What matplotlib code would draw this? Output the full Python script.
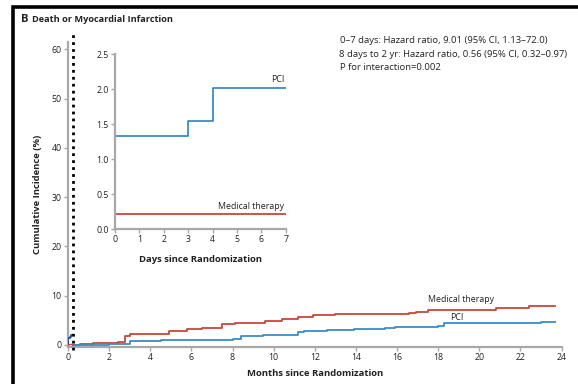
import matplotlib
matplotlib.use("Agg")
import matplotlib.pyplot as plt
from matplotlib.lines import Line2D
import numpy as np

plt.rcParams['font.family'] = ['Open Sans', 'DejaVu Sans']

# Main panel: landmark analysis from day 8 to 2 years (months, cumulative %)
med_months = [0.25, 0.6, 1.2, 2.45, 2.75, 3.0, 4.9, 5.8, 6.5, 7.5, 8.1, 9.6, 10.4, 11.2, 11.9, 13.0,
              16.6, 16.9, 17.5, 20.8, 22.4, 23.7]
med_pct = [0.0, 0.2, 0.5, 0.6, 1.9, 2.3, 2.8, 3.2, 3.5, 4.2, 4.4, 4.8, 5.2, 5.7, 6.0, 6.2,
           6.4, 6.7, 7.1, 7.5, 8.0, 8.0]
pci_months = [0.25, 2.0, 3.0, 4.5, 8.0, 8.4, 9.5, 11.2, 11.5, 12.6, 13.9, 15.4, 15.9, 18.0,
              18.3, 19.1, 23.0, 23.7]
pci_pct = [0.0, 0.2, 0.85, 1.1, 1.3, 1.8, 2.1, 2.6, 2.8, 3.1, 3.3, 3.5, 3.7, 3.9,
           4.4, 4.4, 4.6, 4.6]

# Inset: first 7 days (days, cumulative %)
pci_days = [0, 0, 3, 4, 7]
pci_days_pct = [0.0, 1.33, 1.55, 2.02, 2.02]
med_days = [0, 0, 7]
med_days_pct = [0.0, 0.22, 0.22]

landmark_month = 7 / 30.44

months_ticks = list(range(0, 25, 2))
pct_ticks = list(range(0, 61, 10))
day_ticks = list(range(0, 8))
inset_pct_ticks = [0.0, 0.5, 1.0, 1.5, 2.0, 2.5]

annotation = ["0\u20137 days: Hazard ratio, 9.01 (95% CI, 1.13\u201372.0)",
              "8 days to 2 yr: Hazard ratio, 0.56 (95% CI, 0.32\u20130.97)",
              "P for interaction=0.002"]

RED = "#c8463a"
BLUE = "#3a8bc9"
NAVY = "#1f4e9a"
SPINE = "#a8a8a8"
TXT = "#222222"

fig = plt.figure(figsize=(5.78, 3.84), dpi=100)

def style_axes(ax, fs=6.3):
    for s in ["top", "right"]:
        ax.spines[s].set_visible(False)
    for s in ["left", "bottom"]:
        ax.spines[s].set_color(SPINE)
        ax.spines[s].set_linewidth(1.6)
    ax.tick_params(colors=SPINE, labelcolor=TXT, labelsize=fs, length=3, width=1.0, pad=1.5)

ax = fig.add_axes([0.1176, 0.0958, 0.854, 0.795])
style_axes(ax)
ax.step(med_months, med_pct, where="post", color=RED, lw=1.3, zorder=4)
ax.step(pci_months, pci_pct, where="post", color=BLUE, lw=1.3, zorder=4)
# First-week curves on the month scale
ax.step(np.array(pci_days) / 30.44, pci_days_pct, where="post", color=NAVY, lw=1.3, zorder=4)
ax.step(np.array(med_days) / 30.44, med_days_pct, where="post", color=RED, lw=1.0, zorder=4)
ax.axvline(landmark_month, ymin=-0.01, ymax=1.03, color="black", lw=2.0,
           linestyle=(0, (1, 1.5)), clip_on=False, zorder=5)
ax.set_xlim(0, 24)
ax.set_ylim(-0.45, 61.5)
ax.spines["left"].set_bounds(-0.45, 61.5)
ax.set_xticks(months_ticks)
ax.set_yticks(pct_ticks)
ax.set_xlabel("Months since Randomization", fontsize=6.8, fontweight="bold", color=TXT, labelpad=5)
ax.set_ylabel("Cumulative Incidence (%)", fontsize=6.8, fontweight="bold", color=TXT, labelpad=7)
ax.text(19.1, 8.3, "Medical therapy", fontsize=6.3, color=TXT, ha="center", va="bottom")
ax.text(18.9, 4.7, "PCI", fontsize=6.3, color=TXT, ha="center", va="bottom")

for i, line in enumerate(annotation):
    fig.text(0.588 if i != 1 else 0.586, 0.895 - i * 0.036, line, fontsize=6.8, color=TXT, va="center")

ins = fig.add_axes([0.199, 0.4036, 0.2953, 0.455])
style_axes(ins)
ins.step(pci_days, pci_days_pct, where="post", color=BLUE, lw=1.3)
ins.step(med_days, med_days_pct, where="post", color=RED, lw=1.3)
ins.set_xlim(0, 7)
ins.set_ylim(0, 2.5)
ins.set_xticks(day_ticks)
ins.set_yticks(inset_pct_ticks)
ins.set_yticklabels([f"{v:.1f}" for v in inset_pct_ticks])
ins.set_xlabel("Days since Randomization", fontsize=6.8, fontweight="bold", color=TXT, labelpad=8)
ins.text(6.95, 2.07, "PCI", fontsize=6.3, color=TXT, ha="right", va="bottom")
ins.text(6.95, 0.26, "Medical therapy", fontsize=6.3, color=TXT, ha="right", va="bottom")

# Panel title and frame (left edge and top edge as one polyline)
fig.text(0.036, 0.949, "B", fontsize=8, fontweight="bold", color=TXT, va="center")
fig.text(0.056, 0.949, "Death or Myocardial Infarction", fontsize=6.6, fontweight="bold",
         color=TXT, va="center")
fig.add_artist(Line2D([0.0225, 0.0225, 1.0], [0.0, 0.982, 0.982], color="black", lw=2.6,
                      transform=fig.transFigure, solid_capstyle="butt",
                      solid_joinstyle="miter"))

fig.savefig("out.png", dpi=100)
